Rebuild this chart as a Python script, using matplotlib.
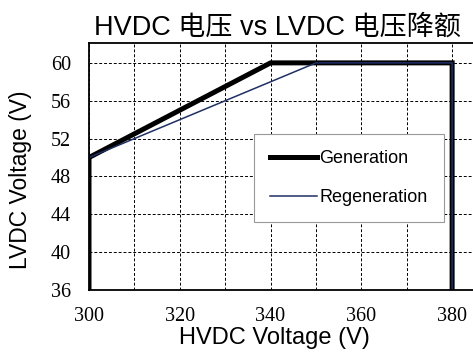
import matplotlib
matplotlib.use("Agg")
import matplotlib.pyplot as plt

# derating curves (HVDC input vs LVDC output)
gen_hv = [300, 300, 340, 380, 380]
gen_lv = [36, 50, 60, 60, 36]
regen_hv = [300, 300, 350, 380, 380]
regen_lv = [36, 50, 60, 60, 36]

x_ticks = [300, 320, 340, 360, 380]
y_ticks = [36, 40, 44, 48, 52, 56, 60]

sans = ['Liberation Sans', 'Noto Sans CJK SC', 'DejaVu Sans']
serif = ['Liberation Serif', 'DejaVu Serif']

fig = plt.figure(figsize=(4.73, 3.54), dpi=100)
ax = fig.add_axes([89 / 473, 64 / 354, 384 / 473, 247 / 354])

ax.plot(gen_hv, gen_lv, color='black', lw=3.6, label='Generation',
        solid_joinstyle='miter')
ax.plot(regen_hv, regen_lv, color='#1f2f66', lw=1.1, label='Regeneration')

ax.set_xlim(300, 384.6)
ax.set_ylim(36, 62.1)
ax.set_xticks(x_ticks)
ax.set_xticks(range(310, 390, 20), minor=True)
ax.set_yticks(y_ticks)
ax.grid(True, which='both', color='black', linestyle=(0, (3, 2)), lw=0.7)
ax.tick_params(which='both', length=0)
ax.tick_params(axis='x', pad=12)
ax.tick_params(axis='y', pad=13)
for lbl in ax.get_xticklabels() + ax.get_yticklabels():
    lbl.set_family(serif)
    lbl.set_fontsize(14.5)

for s in ['left', 'top', 'bottom']:
    ax.spines[s].set_linewidth(1.3)
ax.spines['right'].set_visible(False)

ax.set_title('HVDC 电压 vs LVDC 电压降额', family=sans, fontsize=19.5, pad=6,
             x=0.49)
ax.set_xlabel('HVDC Voltage (V)', family=sans, fontsize=17)
ax.xaxis.set_label_coords(0.482, -0.15)
ax.set_ylabel('LVDC Voltage (V)', family=sans, fontsize=16.5)
ax.yaxis.set_label_coords(-0.148, 0.445)

leg = ax.legend(loc='lower left', bbox_to_anchor=(0.43, 0.275, 0.495, 0.36),
                mode='expand', borderaxespad=0,
                prop={'family': sans, 'size': 13},
                fancybox=False, framealpha=1, edgecolor='#999999',
                handlelength=2.6, handletextpad=0.1, labelspacing=1.2,
                borderpad=0.9)
leg.get_frame().set_linewidth(0.8)

fig.savefig('out.png', dpi=100)
